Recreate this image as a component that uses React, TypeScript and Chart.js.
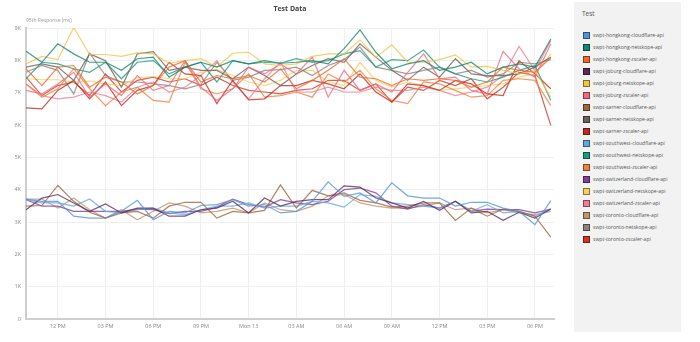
import React, { useEffect, useRef } from "react";
import { Chart, registerables } from "chart.js";

Chart.register(...registerables);

// hour offsets from Sun 10:00
const hourOffsets = [0, 1, 2, 3, 4, 5, 6, 7, 8, 9, 10, 11, 12, 13, 14, 15, 16, 17, 18, 19, 20, 21, 22, 23, 24, 25, 26, 27, 28, 29, 30, 31, 32, 33];
const tickHours = [2, 5, 8, 11, 14, 17, 20, 23, 26, 29, 32];
const tickLabels = ["12 PM", "03 PM", "06 PM", "09 PM", "Mon 13", "03 AM", "06 AM", "09 AM", "12 PM", "03 PM", "06 PM"];

const seriesNames = [
  "swpt-hongkong-cloudflare-api",
  "swpt-hongkong-netskope-api",
  "swpt-hongkong-zscaler-api",
  "swpt-joburg-cloudflare-api",
  "swpt-joburg-netskope-api",
  "swpt-joburg-zscaler-api",
  "swpt-sarner-cloudflare-api",
  "swpt-sarner-netskope-api",
  "swpt-sarner-zscaler-api",
  "swpt-southwest-cloudflare-api",
  "swpt-southwest-netskope-api",
  "swpt-southwest-zscaler-api",
  "swpt-switzerland-cloudflare-api",
  "swpt-switzerland-netskope-api",
  "swpt-switzerland-zscaler-api",
  "swpt-toronto-cloudflare-api",
  "swpt-toronto-netskope-api",
  "swpt-toronto-zscaler-api",
];

const seriesColors = [
  "#4f93d8", "#13866c", "#ea6a2c", "#5a2a5c", "#f3c443", "#ec6a82",
  "#9d6539", "#6c605b", "#be2a1f", "#61a7e2", "#1b9a7d", "#f0803f",
  "#7e3f99", "#f6cf5c", "#f07d95", "#c3946c", "#8c817e", "#cf3524",
];

const hongkongCloudflare = [3710, 3640, 3640, 3180, 3120, 3120, 3330, 3670, 3070, 3330, 3280, 3510, 3540, 3690, 3490, 3540, 3280, 3330, 3640, 4240, 3790, 3900, 3590, 4210, 3810, 3740, 3740, 3490, 3610, 3610, 3430, 3330, 2920, 3660];
const hongkongNetskope = [8280, 7940, 8510, 8200, 7940, 7940, 7690, 8050, 8100, 7480, 7790, 7940, 7790, 7990, 7890, 7990, 7910, 7940, 7990, 7890, 8360, 8940, 8250, 7740, 7890, 7990, 7690, 7790, 7940, 7580, 7790, 7890, 7790, 8660];
const hongkongZscaler = [7740, 7220, 7790, 7840, 7170, 7480, 7330, 6960, 7220, 7790, 7990, 7330, 7530, 7430, 7530, 7330, 7740, 7120, 7380, 7690, 8050, 7480, 7430, 7220, 7430, 7380, 7430, 7380, 7170, 7330, 7790, 7690, 7630, 8080];
const joburgCloudflare = [3380, 3740, 3850, 3590, 3330, 3560, 3280, 3430, 3430, 3180, 3180, 3380, 3430, 3640, 3280, 3740, 3490, 3640, 3690, 3690, 4120, 4080, 3740, 3590, 3430, 3640, 3360, 3640, 3280, 3330, 3050, 3300, 3120, 3400];
const joburgNetskope = [7890, 8120, 8020, 9020, 8180, 8180, 8120, 8230, 8200, 7910, 7990, 8050, 7790, 8220, 8250, 7890, 7840, 7890, 8120, 8200, 8200, 8630, 8100, 8480, 7940, 7940, 8020, 8170, 7790, 7810, 7690, 7580, 7690, 6860];
const joburgZscaler = [7070, 6960, 7270, 7630, 6860, 7270, 6910, 7530, 7070, 7220, 7990, 7170, 6760, 7120, 7790, 7580, 7890, 7580, 8100, 6860, 7690, 7070, 7270, 7020, 7630, 8200, 7430, 7480, 7070, 6960, 8280, 7740, 7480, 8510];
const sarnerCloudflare = [3490, 3510, 4130, 3640, 3300, 3120, 3280, 3330, 3120, 3490, 3610, 3610, 3120, 3330, 3280, 3360, 4150, 3430, 3980, 3810, 3900, 3670, 3590, 3460, 3490, 3590, 3590, 3050, 3430, 3180, 3400, 3330, 3180, 2530];
const sarnerNetskope = [7790, 7890, 7790, 7380, 8200, 7990, 7170, 8200, 8270, 7690, 7790, 7690, 7690, 7430, 7790, 7530, 7220, 7580, 7840, 8050, 7940, 8510, 8100, 7690, 7380, 7790, 7480, 8050, 7580, 7530, 7530, 7580, 7790, 8100];
const sarnerZscaler = [6530, 6500, 7070, 7380, 6810, 7330, 6600, 7070, 7220, 7940, 7580, 7530, 6660, 7380, 6780, 6810, 7220, 7220, 7380, 7270, 7120, 7580, 7020, 6710, 7270, 7220, 7070, 7380, 7270, 6960, 6910, 7990, 7580, 7120];
const southwestCloudflare = [3690, 3590, 3590, 3490, 3710, 3330, 3280, 3380, 3430, 3280, 3230, 3380, 3490, 3490, 3590, 3430, 3490, 3490, 3640, 3590, 3460, 3850, 3790, 3590, 3540, 3490, 3430, 3640, 3330, 3540, 3280, 3330, 3180, 3400];
const southwestNetskope = [7430, 7940, 7890, 7740, 7630, 7940, 7430, 7940, 7990, 7580, 7790, 7940, 7330, 7990, 7890, 7940, 7910, 8050, 7940, 7990, 8200, 8300, 7790, 8020, 7990, 8320, 7790, 7580, 7430, 7330, 7480, 7690, 7840, 6760];
const southwestZscaler = [7270, 6860, 7120, 7740, 7120, 6600, 7020, 7170, 6760, 6710, 7940, 7120, 6960, 7120, 7580, 6860, 6910, 7020, 6860, 7580, 7330, 7690, 7120, 6760, 6660, 7330, 7270, 7070, 6860, 6910, 7380, 7430, 7380, 6600];
const switzerlandCloudflare = [3690, 3490, 3490, 3330, 3330, 3330, 3330, 3400, 3380, 3260, 3330, 3330, 3460, 3710, 3540, 3460, 3690, 3590, 3540, 3640, 4000, 4050, 3900, 3490, 3400, 3540, 3430, 3640, 3330, 3400, 3380, 3380, 3280, 3400];
const switzerlandNetskope = [7430, 7400, 7400, 7330, 7360, 7270, 7220, 7460, 7500, 7430, 7430, 7630, 7710, 7530, 7330, 7220, 7380, 7690, 7690, 7330, 7220, 7940, 7380, 7170, 7330, 7220, 7070, 7120, 7170, 7220, 7270, 7480, 7580, 8200];
const switzerlandZscaler = [7270, 6910, 6810, 6860, 7020, 6910, 6710, 7170, 7330, 7020, 7170, 7530, 7990, 7330, 6810, 7430, 7940, 7020, 7020, 7170, 7020, 7020, 7170, 7070, 7070, 7170, 7070, 6910, 7020, 7170, 7530, 8430, 7690, 8610];
const torontoCloudflare = [3710, 3710, 3430, 3740, 3380, 3120, 3380, 3070, 3330, 3590, 3490, 3280, 3330, 3430, 3280, 3590, 3380, 3330, 3490, 3810, 3850, 3590, 3490, 3430, 3430, 3490, 3590, 3380, 3430, 3280, 3380, 3280, 3230, 3330];
const torontoNetskope = [7630, 7840, 7690, 6960, 8220, 7530, 7330, 7330, 7270, 7220, 7120, 7250, 7940, 7380, 7480, 7690, 7710, 7790, 7530, 7840, 8020, 8410, 7790, 7690, 7580, 7690, 7790, 7580, 7690, 7480, 7580, 7940, 7890, 8020];
const torontoZscaler = [7480, 6910, 7220, 7330, 6910, 7580, 7020, 7380, 7480, 7330, 7430, 7220, 7480, 7220, 7070, 7020, 6960, 7070, 7120, 7380, 7380, 7070, 7270, 6710, 7170, 7070, 7380, 7220, 7430, 6810, 7170, 7630, 7530, 5990];

const seriesValues = [
  hongkongCloudflare, hongkongNetskope, hongkongZscaler,
  joburgCloudflare, joburgNetskope, joburgZscaler,
  sarnerCloudflare, sarnerNetskope, sarnerZscaler,
  southwestCloudflare, southwestNetskope, southwestZscaler,
  switzerlandCloudflare, switzerlandNetskope, switzerlandZscaler,
  torontoCloudflare, torontoNetskope, torontoZscaler,
];

const yTickValues = [0, 1000, 2000, 3000, 4000, 5000, 6000, 7000, 8000, 9000];
const yTickLabels = ["0", "1K", "2K", "3K", "4K", "5K", "6K", "7K", "8K", "9K"];

const chartTitle = "Test Data";
const yAxisLabel = "95th Response (ms)";
const legendTitle = "Test";

function hexToRgba(hex: string, a: number) {
  const n = parseInt(hex.slice(1), 16);
  return `rgba(${(n >> 16) & 255},${(n >> 8) & 255},${n & 255},${a})`;
}

const FONT = "'Open Sans', 'Liberation Sans', sans-serif";

const textPlugin = {
  id: "headerTexts",
  afterDraw(chart: any) {
    const ctx = chart.ctx;
    const area = chart.chartArea;
    ctx.save();
    ctx.fillStyle = "#444";
    ctx.font = `bold 7px ${FONT}`;
    ctx.textAlign = "center";
    ctx.textBaseline = "middle";
    ctx.fillText(chartTitle, (area.left + area.right) / 2, 9);
    ctx.fillStyle = "#999";
    ctx.font = `5px ${FONT}`;
    ctx.textAlign = "left";
    ctx.fillText(yAxisLabel, area.left, 21);
    ctx.restore();
  },
};

export default function App() {
  const canvasRef = useRef<HTMLCanvasElement | null>(null);

  useEffect(() => {
    const canvas = canvasRef.current;
    if (!canvas) return;
    const chart = new Chart(canvas, {
      type: "line",
      data: {
        datasets: seriesNames.map((name, k) => ({
          label: name,
          data: hourOffsets.map((h, i) => ({ x: h, y: seriesValues[k][i] })),
          borderColor: hexToRgba(seriesColors[k], 0.8),
          backgroundColor: seriesColors[k],
          borderWidth: 1.2,
          pointRadius: 0,
          tension: 0,
          fill: false,
        })),
      },
      options: {
        animation: false,
        responsive: false,
        devicePixelRatio: 1,
        layout: { padding: { top: 28, right: 16, left: 0, bottom: 0 } },
        plugins: {
          legend: { display: false },
          title: { display: false },
          tooltip: { enabled: false },
        },
        scales: {
          x: {
            type: "linear",
            min: 0,
            max: 33.2,
            grid: { color: "#efefef", drawTicks: false, lineWidth: 1 },
            border: { color: "#cfcfcf", width: 2 },
            afterBuildTicks: (scale: any) => {
              scale.ticks = tickHours.map((v) => ({ value: v }));
            },
            afterFit: (scale: any) => {
              scale.height = 23;
            },
            ticks: {
              autoSkip: false,
              maxRotation: 0,
              padding: 4,
              color: "#888",
              font: { size: 5.5, family: FONT },
              callback: (_v: any, idx: number) => tickLabels[idx],
            },
          },
          y: {
            min: 0,
            max: 9000,
            grid: { color: "#efefef", drawTicks: false, lineWidth: 1 },
            border: { color: "#cfcfcf", width: 2 },
            afterBuildTicks: (scale: any) => {
              scale.ticks = yTickValues.map((v) => ({ value: v }));
            },
            afterFit: (scale: any) => {
              scale.width = 26;
            },
            ticks: {
              padding: 5,
              color: "#888",
              font: { size: 5.5, family: FONT },
              callback: (_v: any, idx: number) => yTickLabels[idx],
            },
          },
        },
      },
      plugins: [textPlugin],
    } as any);
    return () => chart.destroy();
  }, []);

  return (
    <div style={{ position: "fixed", left: 0, top: 0, width: 700, height: 342, background: "#fff", fontFamily: FONT }}>
      <canvas ref={canvasRef} width={570} height={342} style={{ position: "absolute", left: 0, top: 0 }} />
      <div
        style={{
          position: "absolute",
          left: 574,
          top: 2,
          width: 107,
          height: 330,
          background: "#f2f2f2",
        }}
      >
        <div style={{ position: "absolute", left: 8, top: 7, fontSize: 6.5, color: "#555", lineHeight: "9px" }}>{legendTitle}</div>
        {seriesNames.map((name, k) => (
          <div key={name} style={{ position: "absolute", left: 9, top: 30 + 12 * k, height: 7, display: "flex", alignItems: "center" }}>
            <span
              style={{
                display: "inline-block",
                width: 5,
                height: 5,
                background: seriesColors[k],
                border: "1px solid rgba(0,0,0,0.45)",
                marginRight: 3,
              }}
            />
            <span style={{ fontSize: 5.1, color: "#555", whiteSpace: "nowrap", lineHeight: "7px" }}>{name}</span>
          </div>
        ))}
      </div>
    </div>
  );
}
